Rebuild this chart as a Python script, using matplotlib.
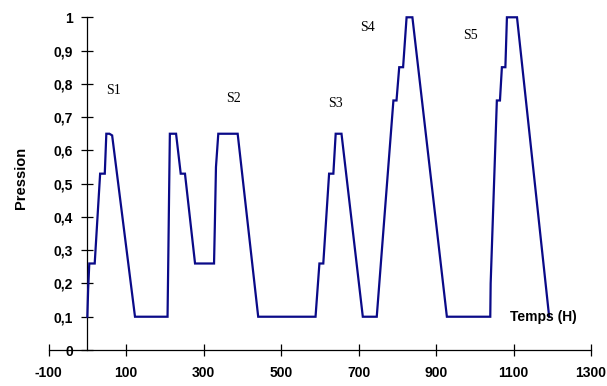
import matplotlib
matplotlib.use("Agg")
import matplotlib.pyplot as plt
from matplotlib.ticker import FuncFormatter

# Data
temps = [0, 2, 5, 19, 33, 45, 49, 57, 64, 123, 207, 209, 211, 213, 229, 241, 252, 278,
         327, 329, 332, 338, 388, 441, 589, 599, 609, 624, 635, 641, 656, 711, 747,
         790, 798, 805, 815, 824, 839, 928, 1040, 1041, 1057, 1065, 1070, 1079, 1083,
         1109, 1192]
pression = [0.10, 0.18, 0.26, 0.26, 0.53, 0.53, 0.65, 0.65, 0.645, 0.10, 0.10, 0.28, 0.47,
            0.65, 0.65, 0.53, 0.53, 0.26, 0.26, 0.37, 0.55, 0.65, 0.65, 0.10, 0.10, 0.26,
            0.26, 0.53, 0.53, 0.65, 0.65, 0.10, 0.10, 0.75, 0.75, 0.85, 0.85, 1.00, 1.00,
            0.10, 0.10, 0.20, 0.75, 0.75, 0.85, 0.85, 1.00, 1.00, 0.10]

seq_labels = ["S1", "S2", "S3", "S4", "S5"]
seq_x = [67, 376, 641, 724, 988]
seq_y = [0.78, 0.755, 0.74, 0.968, 0.945]

x_ticks = [-100, 100, 300, 500, 700, 900, 1100, 1300]
y_ticks = [0, 0.1, 0.2, 0.3, 0.4, 0.5, 0.6, 0.7, 0.8, 0.9, 1.0]

plt.rcParams['font.family'] = ['Liberation Sans', 'DejaVu Sans']

fig = plt.figure(figsize=(6.07, 3.86), dpi=100)
ax = fig.add_axes([48.6 / 607, (386 - 350) / 386, (591 - 48.6) / 607, (350 - 17.3) / 386])

ax.plot(temps, pression, color='#0a0a88', lw=1.6, clip_on=False, zorder=3,
        solid_joinstyle='miter')

ax.set_xlim(-100, 1300)
ax.set_ylim(0, 1)
ax.spines['left'].set_position(('data', 0))
ax.spines['bottom'].set_position(('data', 0))
for s in ['top', 'right']:
    ax.spines[s].set_visible(False)
for s in ['left', 'bottom']:
    ax.spines[s].set_linewidth(0.9)
    ax.spines[s].set_color('black')

ax.set_xticks(x_ticks)
ax.set_yticks(y_ticks)


def fmt(v, pos):
    if abs(v) < 1e-9:
        return '0'
    if abs(v - 1) < 1e-9:
        return '1'
    return f'{v:.1f}'.replace('.', ',')


ax.yaxis.set_major_formatter(FuncFormatter(fmt))
ax.xaxis.set_major_formatter(FuncFormatter(lambda v, p: f'{int(v)}'))
ax.tick_params(axis='both', direction='inout', length=8, width=0.9, color='black',
               labelsize=10)
ax.tick_params(axis='y', pad=6.5)
ax.tick_params(axis='x', pad=7.6)
for lab in ax.get_xticklabels() + ax.get_yticklabels():
    lab.set_fontweight('bold')

for lab, xx, yy in zip(seq_labels, seq_x, seq_y):
    ax.text(xx, yy, lab, family=['Liberation Serif', 'DejaVu Serif'], fontsize=10,
            ha='center', va='center')

ax.text(1176, 0.098, 'Temps (H)', fontsize=10, fontweight='bold', ha='center',
        va='center')
fig.text(21 / 607, 1 - 178 / 386, 'Pression', rotation=90, fontsize=10.5,
         fontweight='bold', ha='center', va='center')

fig.savefig('out.png', dpi=100)
